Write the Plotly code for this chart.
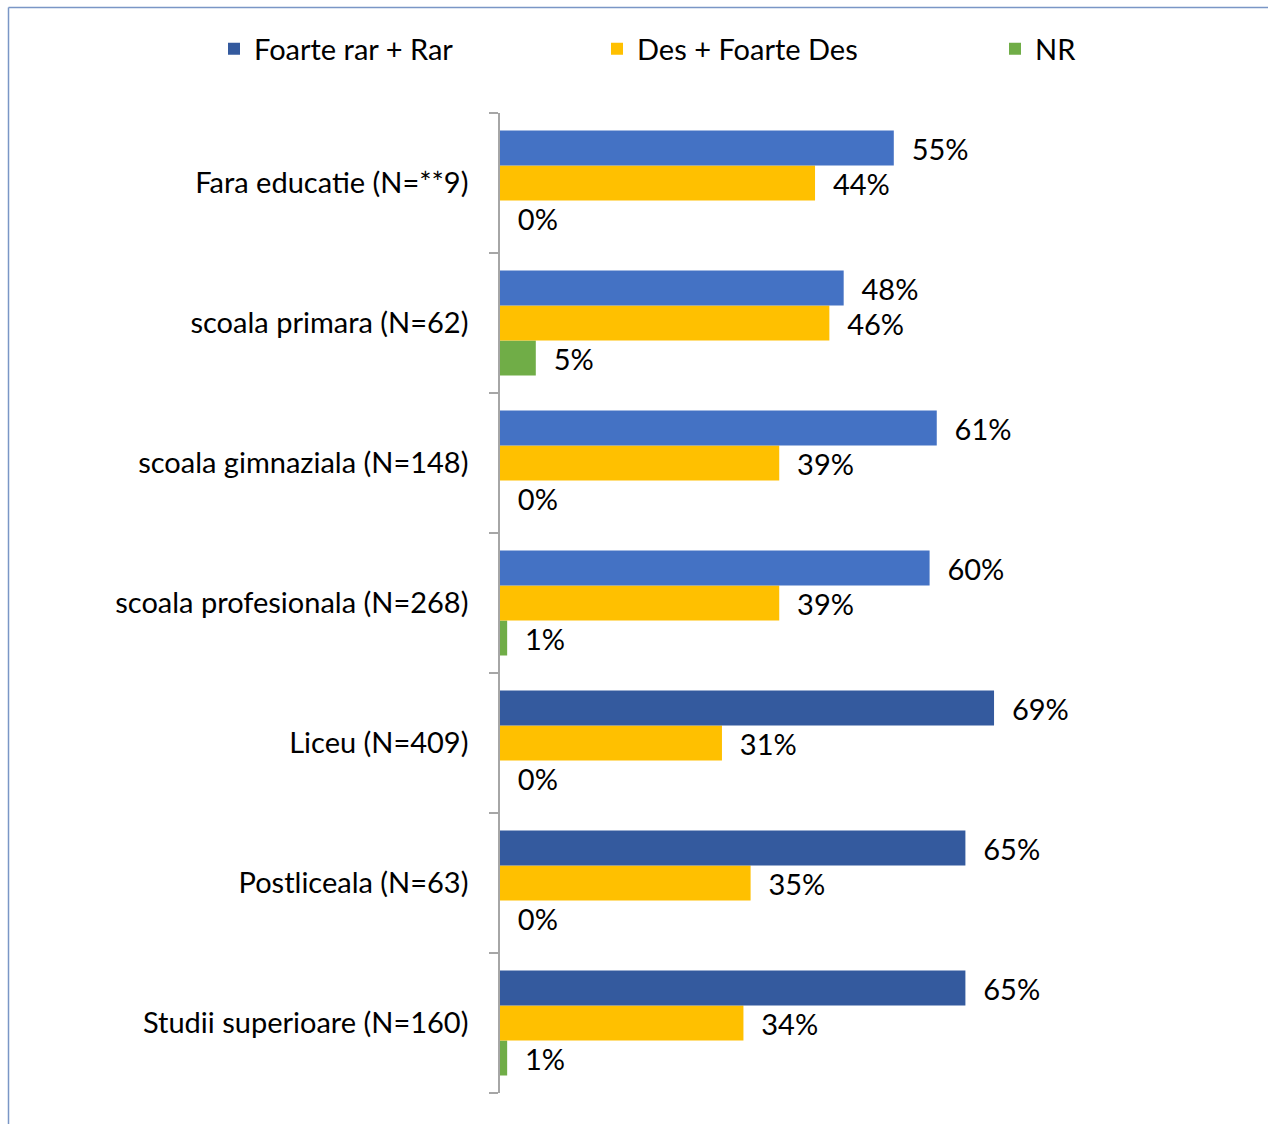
import plotly.graph_objects as go

# Data (listed bottom-to-top, as plotted on the category axis)
categories = [
    "Studii superioare (N=160)",
    "Postliceala (N=63)",
    "Liceu (N=409)",
    "scoala profesionala (N=268)",
    "scoala gimnaziala (N=148)",
    "scoala primara (N=62)",
    "Fara educatie (N=**9)",
]
rar = [65, 65, 69, 60, 61, 48, 55]
des = [34, 35, 31, 39, 39, 46, 44]
nr = [1, 0, 0, 1, 0, 5, 0]

series_names = ["Foarte rar + Rar", "Des + Foarte Des", "NR"]
blue_colors = ["#345A9E", "#345A9E", "#345A9E", "#4472C4", "#4472C4", "#4472C4", "#4472C4"]
yellow = "#FFC000"
green = "#70AD47"

FONT = "Lato"
FS = 29

W, H = 1268, 1124
ML, MR, MT, MB = 500, 52, 113, 31
plot_w = W - ML - MR
plot_h = H - MT - MB


def labels(vals):
    return ["  %d%%" % v for v in vals]


def px_x(p):
    return (p - ML) / plot_w


def px_y(p):
    return (H - MB - p) / plot_h


fig = go.Figure()
# traces added bottom bar first so the blue bar ends on top in each group
fig.add_trace(go.Bar(
    y=categories, x=nr, name=series_names[2], orientation="h",
    marker=dict(color=green, line=dict(width=0)),
    text=labels(nr), textposition="outside", cliponaxis=False,
    textfont=dict(family=FONT, size=FS, color="#000000"),
    legend="legend3",
))
fig.add_trace(go.Bar(
    y=categories, x=des, name=series_names[1], orientation="h",
    marker=dict(color=yellow, line=dict(width=0)),
    text=labels(des), textposition="outside", cliponaxis=False,
    textfont=dict(family=FONT, size=FS, color="#000000"),
    legend="legend2",
))
fig.add_trace(go.Bar(
    y=categories, x=rar, name=series_names[0], orientation="h",
    marker=dict(color=blue_colors, line=dict(width=0)),
    text=labels(rar), textposition="outside", cliponaxis=False,
    textfont=dict(family=FONT, size=FS, color="#000000"),
    legend="legend",
))
for tr in fig.data:
    tr.update(constraintext="none")


def leg(px):
    return dict(
        orientation="h", x=px_x(px), xanchor="left", y=px_y(49), yanchor="middle",
        font=dict(family=FONT, size=FS, color="#000000"),
        bgcolor="rgba(0,0,0,0)", borderwidth=0,
    )


frame_color = "#7A96C6"
fig.update_layout(
    width=W, height=H,
    margin=dict(l=ML, r=MR, t=MT, b=MB, pad=0),
    paper_bgcolor="white", plot_bgcolor="white",
    barmode="group", bargap=0.25, bargroupgap=0,
    font=dict(family=FONT, size=FS, color="#000000"),
    xaxis=dict(range=[0, 100], visible=False, fixedrange=True),
    yaxis=dict(
        type="category", categoryorder="array", categoryarray=categories,
        showline=True, linecolor="#A6A6A6", linewidth=1.5,
        ticks="outside", ticklen=9, tickcolor="#A6A6A6", tickwidth=1.5,
        tickson="boundaries", showgrid=False, zeroline=False,
        ticklabelstandoff=24, fixedrange=True,
        tickfont=dict(family=FONT, size=FS, color="#000000"),
    ),
    showlegend=True,
    legend=leg(214),
    legend2=leg(597),
    legend3=leg(995),
    shapes=[
        dict(type="line", xref="paper", yref="paper",
             x0=px_x(8.5), x1=px_x(W), y0=px_y(7.5), y1=px_y(7.5),
             line=dict(color=frame_color, width=1.5)),
        dict(type="line", xref="paper", yref="paper",
             x0=px_x(8.5), x1=px_x(8.5), y0=px_y(7.5), y1=px_y(H),
             line=dict(color=frame_color, width=1.5)),
    ],
)

fig.write_html(
    "out.html",
    config={"displayModeBar": False},
    post_script="document.body.style.margin='0';document.body.style.overflow='hidden';",
)
